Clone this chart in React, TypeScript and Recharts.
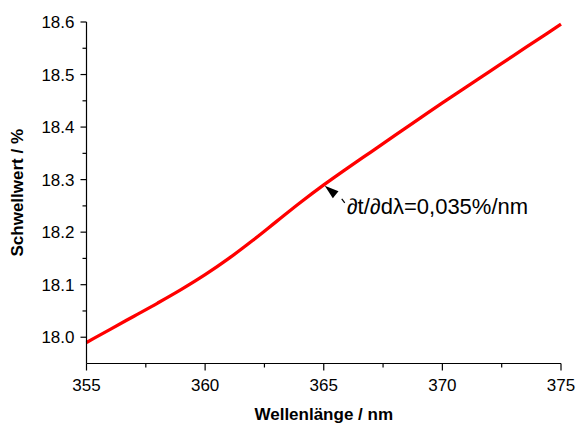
import React from "react";
import { LineChart, Line, XAxis, YAxis, ReferenceDot } from "recharts";

const wavelengths = [
  355, 356, 357, 358, 359, 360, 361, 362, 363, 364, 365,
  366, 367, 368, 369, 370, 371, 372, 373, 374, 375,
];
const thresholds = [
  17.99, 18.015, 18.04, 18.065, 18.091, 18.119, 18.15, 18.184, 18.22, 18.256, 18.29,
  18.322, 18.353, 18.384, 18.415, 18.446, 18.476, 18.506, 18.536, 18.566, 18.596,
];

const xTicks = [355, 357.5, 360, 362.5, 365, 367.5, 370, 372.5, 375];
const yTicks = [18.0, 18.05, 18.1, 18.15, 18.2, 18.25, 18.3, 18.35, 18.4, 18.45, 18.5, 18.55, 18.6];

const annotX = 365;
const annotY = 18.29;
const annotText = "∂t/∂dλ=0,035%/nm";

const data = wavelengths.map((w, i) => ({ w, t: thresholds[i] }));

const FONT = "'Liberation Sans', Arial, sans-serif";

const isMajorX = (v: number) => Math.abs(v % 5) < 1e-6;
const isMajorY = (v: number) => Math.abs(Math.round(v * 10) - v * 10) < 1e-6;

const XTick = (props: any) => {
  const { x, y, payload } = props;
  const major = isMajorX(payload.value);
  return (
    <g>
      <line x1={x} y1={y} x2={x} y2={y + (major ? 7 : 4)} stroke="#000" strokeWidth={1.2} />
      {major && (
        <text x={x} y={y + 27} textAnchor="middle" fontSize={17} fontFamily={FONT} fill="#000">
          {payload.value}
        </text>
      )}
    </g>
  );
};

const YTick = (props: any) => {
  const { x, y, payload } = props;
  const major = isMajorY(payload.value);
  return (
    <g>
      <line x1={x} y1={y} x2={x - (major ? 6 : 4)} y2={y} stroke="#000" strokeWidth={1.2} />
      {major && (
        <text x={x - 12} y={y + 6} textAnchor="end" fontSize={17} fontFamily={FONT} fill="#000">
          {payload.value.toFixed(1)}
        </text>
      )}
    </g>
  );
};

// arrow + slope text, placed from the point on the curve
const Annotation = (props: any) => {
  const { cx, cy } = props;
  const tx = cx + 1;
  const ty = cy + 1;
  const dx = 0.78;
  const dy = 0.63;
  const bx = tx + dx * 14;
  const by = ty + dy * 14;
  const px = -dy * 4.5;
  const py = dx * 4.5;
  return (
    <g>
      <polygon points={`${tx},${ty} ${bx + px},${by + py} ${bx - px},${by - py}`} fill="#000" />
      <line x1={tx + 17} y1={ty + 13} x2={tx + 20} y2={ty + 17} stroke="#000" strokeWidth={1.2} />
      <text x={tx + 22} y={ty + 28} fontSize={22} fontFamily={FONT} fill="#000">
        {annotText}
      </text>
    </g>
  );
};

export default function App() {
  return (
    <div style={{ position: "fixed", top: 0, left: 0, background: "#fff" }}>
      <LineChart
        width={577}
        height={425}
        data={data}
        margin={{ top: 22, right: 16, left: 0, bottom: 0 }}
      >
        <XAxis
          dataKey="w"
          type="number"
          domain={[355, 375]}
          ticks={xTicks}
          interval={0}
          tickSize={0}
          tickMargin={0}
          tickLine={false}
          tick={<XTick />}
          height={61.5}
          axisLine={{ stroke: "#000", strokeWidth: 1.2 }}
          label={{
            content: (p: any) => (
              <text
                x={p.viewBox.x + p.viewBox.width / 2}
                y={420}
                textAnchor="middle"
                fontSize={17}
                fontWeight="bold"
                fontFamily={FONT}
                fill="#000"
              >
                Wellenlänge / nm
              </text>
            ),
          }}
        />
        <YAxis
          type="number"
          domain={[17.95, 18.6]}
          ticks={yTicks}
          interval={0}
          tickSize={0}
          tickMargin={0}
          tickLine={false}
          tick={<YTick />}
          width={86.5}
          axisLine={{ stroke: "#000", strokeWidth: 1.2 }}
          allowDataOverflow
          label={{
            content: (p: any) => {
              const cy = p.viewBox.y + p.viewBox.height / 2;
              return (
                <text
                  x={23}
                  y={cy}
                  transform={`rotate(-90, 23, ${cy})`}
                  textAnchor="middle"
                  fontSize={17}
                  fontWeight="bold"
                  fontFamily={FONT}
                  fill="#000"
                >
                  Schwellwert / %
                </text>
              );
            },
          }}
        />
        <Line
          dataKey="t"
          type="monotone"
          stroke="#ff0000"
          strokeWidth={3.3}
          dot={false}
          isAnimationActive={false}
        />
        <ReferenceDot x={annotX} y={annotY} shape={<Annotation />} />
      </LineChart>
    </div>
  );
}
